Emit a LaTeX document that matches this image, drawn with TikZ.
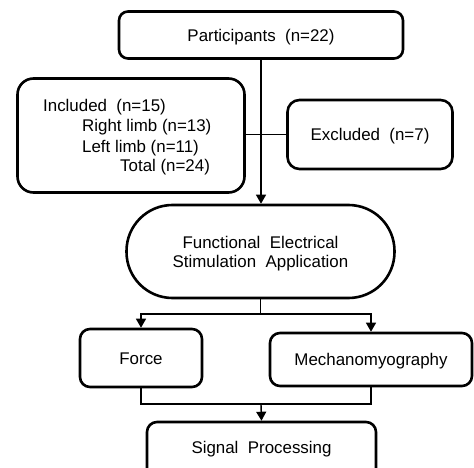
\documentclass[tikz,border=0pt]{standalone}
\usepackage{fontspec}
\setmainfont{Liberation Sans}
\usetikzlibrary{arrows.meta}
\begin{document}
\begin{tikzpicture}[x=1pt,y=-1pt,
  box/.style={draw=black,line width=2.6pt,rounded corners=9pt,inner sep=0pt,
    font=\fontsize{16.9}{20}\selectfont,align=center,text height=12.3pt,text depth=0pt},
  txt/.style={font=\fontsize{16.9}{20}\selectfont,inner sep=0pt,anchor=base west},
  conn/.style={line width=1.4pt,black},
  arr/.style={conn,-{Triangle[width=10pt,length=9pt]}}]
\useasboundingbox (0,0) rectangle (474,468);
\clip (0,0) rectangle (474,468);
\node[box,minimum width=284pt,minimum height=47pt] (part) at (261,35) {Participants\ \ (n=22)};
\node[box,rounded corners=16pt,minimum width=227pt,minimum height=114pt] (inc) at (131,135.5) {};
\node[txt] (t1) at (43,111.5) {Included\ \ (n=15)};
\node[txt] (t2) at (82,132) {Right limb (n=13)};
\node[txt] (t3) at (82,153) {Left limb (n=11)};
\node[txt] (t4) at (120,171.5) {Total (n=24)};
\node[box,rounded corners=12pt,minimum width=165pt,minimum height=69pt] (exc) at (370,134.5) {Excluded\ \ (n=7)};
\node[box,rounded corners=46pt,minimum width=268pt,minimum height=93pt,font=\fontsize{16.9}{19}\selectfont,text height=31.3pt] (fes) at (260.5,251.5)
  {Functional\ \ Electrical\\Stimulation\ \ Application};
\node[box,rounded corners=10pt,minimum width=122pt,minimum height=58pt] (force) at (141,358) {Force};
\node[box,rounded corners=10pt,minimum width=202pt,minimum height=53pt] (mech) at (371,359.5) {Mechanomyography};
\node[box,rounded corners=10pt,minimum width=229pt,minimum height=62pt] (sig) at (261.5,453) {};
\node[txt,anchor=base] (sigt) at (261.5,453) {Signal\ \ Processing};
\coordinate (split) at (260.5,314);
\coordinate (join) at (261,404);
\draw[arr] (part.south) -- (part.south |- fes.north);
\draw[conn] (inc.east |- exc.west) -- (exc.west);
\draw[conn] (fes.south) -- (split);
\draw[arr] (split) -| (force.north);
\draw[arr] (split) -| (mech.north);
\draw[conn] (force.south) |- (join) -| (mech.south);
\draw[arr] (join) -- (sig.north);
\end{tikzpicture}
\end{document}
